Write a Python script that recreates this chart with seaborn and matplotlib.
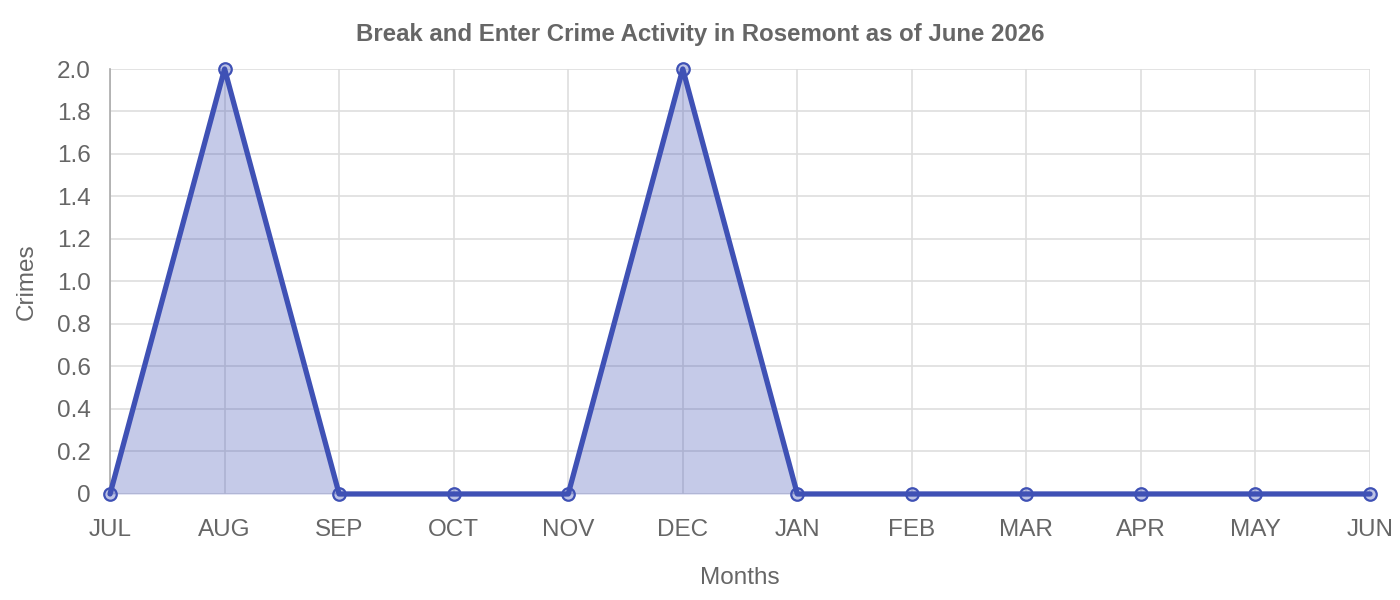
"""
Break and enter crime activity line chart (Rosemont, June 2026).
"""

import numpy as np
import pandas as pd
import matplotlib
matplotlib.use("Agg")
import matplotlib.pyplot as plt
import seaborn as sns
from matplotlib.ticker import FuncFormatter

# --- data -----------------------------------------------------------------
months = ['JUL', 'AUG', 'SEP', 'OCT', 'NOV', 'DEC',
          'JAN', 'FEB', 'MAR', 'APR', 'MAY', 'JUN']
crimes = [0, 2, 0, 0, 0, 2, 0, 0, 0, 0, 0, 0]
y_ticks = [0, 0.2, 0.4, 0.6, 0.8, 1.0, 1.2, 1.4, 1.6, 1.8, 2.0]

title = 'Break and Enter Crime Activity in Rosemont as of June 2026'
x_label = 'Months'
y_label = 'Crimes'

# --- style ----------------------------------------------------------------
LINE = '#3f51b5'
TEXT = '#666666'
GRID = '#dedede'

sns.set_style('white')
plt.rcParams['font.family'] = ['Liberation Sans', 'DejaVu Sans']

df = pd.DataFrame({'pos': np.arange(len(months)), 'month': months, 'crimes': crimes})

fig = plt.figure(figsize=(14, 6), dpi=100)
ax = fig.add_axes([0.0786, 0.1767, 0.9, 0.7083])

ax.fill_between(df['pos'], df['crimes'], 0, color=LINE, alpha=0.3, linewidth=0, zorder=2)
sns.lineplot(data=df, x='pos', y='crimes', ax=ax, color=LINE, linewidth=3.8,
             marker='o', markersize=9, markeredgewidth=1.6,
             markeredgecolor=LINE, markerfacecolor=(63 / 255, 81 / 255, 181 / 255, 0.35),
             zorder=3, clip_on=False)

ax.set_xlim(0, len(months) - 1)
ax.set_ylim(0, 2.0)
ax.set_xticks(df['pos'])
ax.set_xticklabels(months)
ax.set_yticks(y_ticks)
ax.yaxis.set_major_formatter(FuncFormatter(lambda v, _: '0' if v == 0 else f'{v:.1f}'))

ax.grid(True, color=GRID, linewidth=1.2, zorder=0)
ax.set_axisbelow(True)
for side in ['top', 'right', 'bottom']:
    ax.spines[side].set_visible(False)
ax.spines['left'].set_color('#aaaaaa')
ax.spines['left'].set_linewidth(1.2)

ax.tick_params(axis='both', length=8, width=1.2, color=GRID, labelsize=17.5,
               labelcolor=TEXT, pad=6)
ax.tick_params(axis='x', pad=10)

ax.set_xlabel(x_label, fontsize=17.5, color=TEXT, labelpad=19)
ax.set_ylabel(y_label, fontsize=17.5, color=TEXT, labelpad=14)
fig.text(0.5, 1 - 35 / 600, title, fontsize=17.3, fontweight='bold', color=TEXT,
         ha='center', va='center')

fig.savefig('out.png', dpi=100)
plt.close(fig)
